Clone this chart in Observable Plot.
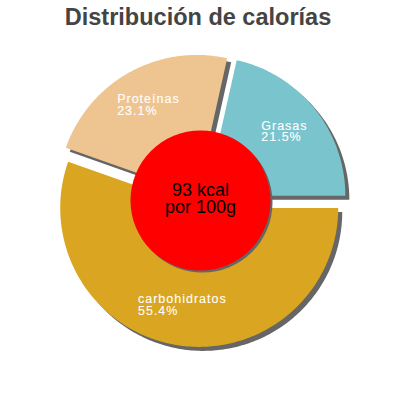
<!DOCTYPE html>
<html><head><meta charset="utf-8">
<script src="https://cdn.jsdelivr.net/npm/d3@7"></script>
<script src="https://cdn.jsdelivr.net/npm/@observablehq/plot@0.6"></script>
<style>
body{margin:0;background:#fff;font-family:"Liberation Sans",Arial,sans-serif;}
#title{height:40px;line-height:34px;font-size:23.5px;font-weight:bold;color:#444;text-align:center;width:396px;}
</style></head><body>
<div id="title"></div>
<div id="chart"></div>
<script>
// ---- data ----
const titleText = "Distribución de calorías";
const categories = ["Grasas", "Proteínas", "carbohidratos"];
const percents = [21.5, 23.1, 55.4];
const percentLabels = ["21.5%", "23.1%", "55.4%"];
const sliceColors = ["#7ac5cd", "#eec591", "#daa520"];
const centerLines = ["93 kcal", "por 100g"];

// ---- layout constants ----
const R = 139, explode = 7.5, labelR = 100, holeR = 70;
const labelSize = 12.5, labelSpacing = 1;
const labelFont = labelSize + "px 'Liberation Sans', Arial, sans-serif";

document.getElementById("title").textContent = titleText;

// build slice polygons from the percentages (start at 3 o'clock, counter-clockwise)
const total = d3.sum(percents);
const polys = [];
const labelRows = [];
const ctx = document.createElement("canvas").getContext("2d");
ctx.font = labelFont;
let cum = 0;
categories.forEach((cat, i) => {
  const a0 = cum / total * 2 * Math.PI;
  cum += percents[i];
  const a1 = cum / total * 2 * Math.PI;
  const mid = (a0 + a1) / 2;
  const cx = explode * Math.cos(mid), cy = explode * Math.sin(mid);
  polys.push({cat, x: cx, y: cy});
  const n = Math.max(2, Math.ceil((a1 - a0) / (Math.PI / 180)));
  for (let k = 0; k <= n; k++) {
    const a = a0 + (a1 - a0) * k / n;
    polys.push({cat, x: cx + R * Math.cos(a), y: cy + R * Math.sin(a)});
  }
  polys.push({cat, x: cx, y: cy});
  const lines = [cat, percentLabels[i]];
  const w = d3.max(lines, s => ctx.measureText(s).width + s.length * labelSpacing);
  labelRows.push({
    text: lines.join("\n"),
    x: cx + labelR * Math.cos(mid) - w / 2,
    y: cy + labelR * Math.sin(mid) + 1.5
  });
});

const chart = Plot.plot({
  width: 400,
  height: 360,
  margin: 0,
  x: {domain: [-200, 200], axis: null},
  y: {domain: [-200, 160], axis: null},
  color: {domain: categories, range: sliceColors},
  style: {fontFamily: "'Liberation Sans', Arial, sans-serif", background: "transparent", overflow: "visible"},
  marks: [
    Plot.line(polys, {x: "x", y: "y", z: "cat", fill: "#666", stroke: "none", dx: 4, dy: 4, curve: "linear"}),
    Plot.line(polys, {x: "x", y: "y", z: "cat", fill: "cat", stroke: "none", curve: "linear"}),
    Plot.text(labelRows, {x: "x", y: "y", text: "text", textAnchor: "start", lineAnchor: "middle",
      lineHeight: 0.94, fontSize: labelSize, fill: "white", stroke: "white", strokeWidth: 0.1}),
    Plot.dot([0], {x: () => 0, y: () => 0, r: holeR, fill: "#666", stroke: "none", dx: 2, dy: 2}),
    Plot.dot([0], {x: () => 0, y: () => 0, r: holeR, fill: "#ff0000", stroke: "none"}),
    Plot.text([centerLines.join("\n")], {x: () => 0, y: () => 0, text: d => d, dy: -1,
      fontSize: 18, lineHeight: 0.94, fill: "black", lineAnchor: "middle", textAnchor: "middle"})
  ]
});
// widen the slice labels' letter spacing like the reference
d3.select(chart).selectAll('g[fill="white"]').style("letter-spacing", labelSpacing + "px");
document.getElementById("chart").appendChild(chart);
</script>
</body></html>
